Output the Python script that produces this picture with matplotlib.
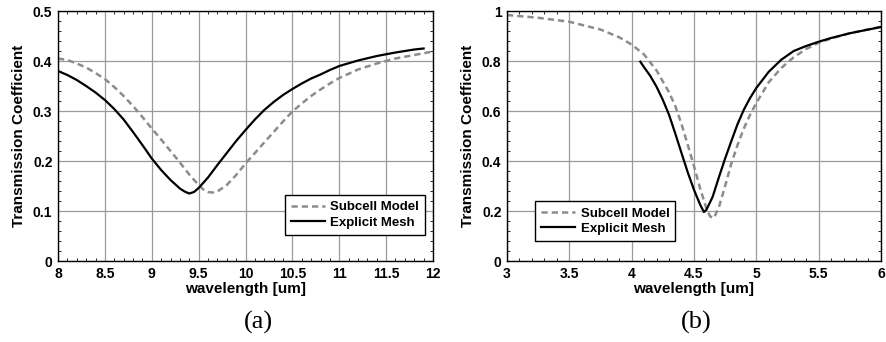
import matplotlib
matplotlib.use("Agg")
import matplotlib.pyplot as plt
from matplotlib.ticker import MultipleLocator

plt.rcParams['font.family'] = ['Liberation Sans', 'DejaVu Sans']

# Panel (a)
a_sub_x = [8.0, 8.1, 8.2, 8.3, 8.4, 8.5, 8.6, 8.7, 8.8, 8.9, 9.0, 9.1, 9.2, 9.3, 9.4, 9.5, 9.55, 9.6, 9.65, 9.7,
           9.8, 9.9, 10.0, 10.1, 10.2, 10.3, 10.4, 10.5, 10.6, 10.7, 10.8, 10.9, 11.0, 11.2, 11.4, 11.6, 11.8, 12.0]
a_sub_y = [0.405, 0.402, 0.395, 0.387, 0.376, 0.364, 0.348, 0.330, 0.310, 0.288, 0.265, 0.243, 0.220, 0.197, 0.173,
           0.152, 0.143, 0.138, 0.137, 0.139, 0.152, 0.172, 0.195, 0.216, 0.237, 0.258, 0.279, 0.299, 0.315, 0.330,
           0.343, 0.355, 0.366, 0.383, 0.395, 0.405, 0.412, 0.419]
a_exp_x = [8.0, 8.1, 8.2, 8.3, 8.4, 8.5, 8.6, 8.7, 8.8, 8.9, 9.0, 9.1, 9.2, 9.3, 9.35, 9.4, 9.45, 9.5, 9.6, 9.7,
           9.8, 9.9, 10.0, 10.1, 10.2, 10.3, 10.4, 10.5, 10.6, 10.7, 10.8, 10.9, 11.0, 11.2, 11.4, 11.6, 11.8, 11.9]
a_exp_y = [0.380, 0.372, 0.362, 0.350, 0.337, 0.322, 0.304, 0.283, 0.258, 0.232, 0.205, 0.182, 0.162, 0.145, 0.139,
           0.135, 0.138, 0.146, 0.167, 0.192, 0.216, 0.240, 0.262, 0.283, 0.302, 0.318, 0.332, 0.344, 0.355, 0.365,
           0.373, 0.382, 0.390, 0.401, 0.410, 0.417, 0.423, 0.425]

# Panel (b)
b_sub_x = [3.0, 3.25, 3.5, 3.75, 3.9, 4.0, 4.1, 4.2, 4.3, 4.35, 4.4, 4.45, 4.5, 4.55, 4.6, 4.63, 4.66, 4.7, 4.75,
           4.8, 4.85, 4.9, 4.95, 5.0, 5.1, 5.2, 5.3, 5.4, 5.5, 5.6, 5.75, 5.9, 6.0]
b_sub_y = [0.984, 0.973, 0.957, 0.926, 0.895, 0.866, 0.826, 0.762, 0.675, 0.620, 0.548, 0.465, 0.380, 0.290, 0.210,
           0.178, 0.172, 0.215, 0.300, 0.390, 0.465, 0.530, 0.585, 0.632, 0.715, 0.772, 0.815, 0.848, 0.873, 0.890,
           0.911, 0.927, 0.937]
b_exp_x = [4.07, 4.1, 4.15, 4.2, 4.25, 4.3, 4.35, 4.4, 4.45, 4.5, 4.55, 4.58, 4.6, 4.65, 4.7, 4.75, 4.8, 4.85, 4.9,
           4.95, 5.0, 5.1, 5.2, 5.3, 5.4, 5.5, 5.6, 5.75, 5.9, 6.0]
b_exp_y = [0.797, 0.775, 0.740, 0.697, 0.645, 0.585, 0.510, 0.432, 0.355, 0.285, 0.225, 0.196, 0.205, 0.257, 0.335,
           0.410, 0.480, 0.548, 0.605, 0.652, 0.692, 0.757, 0.805, 0.840, 0.860, 0.877, 0.892, 0.911, 0.926, 0.936]

series_labels = ["Subcell Model", "Explicit Mesh"]
captions = ["(a)", "(b)"]
a_xticks = ["8", "8.5", "9", "9.5", "10", "10.5", "11", "11.5", "12"]
a_yticks = ["0", "0.1", "0.2", "0.3", "0.4", "0.5"]
b_xticks = ["3", "3.5", "4", "4.5", "5", "5.5", "6"]
b_yticks = ["0", "0.2", "0.4", "0.6", "0.8", "1"]

fig = plt.figure(figsize=(8.86, 3.42), dpi=100)
ax1 = fig.add_axes([0.0655, 0.2368, 0.4232, 0.731])
ax2 = fig.add_axes([0.5722, 0.2368, 0.4221, 0.731])

def style(ax, xlim, ylim, xmin, ymin, xt, xl, yt, yl):
    ax.set_xlim(*xlim)
    ax.set_ylim(*ylim)
    ax.set_xticks(xt)
    ax.set_xticklabels(xl, fontweight='bold')
    ax.set_yticks(yt)
    ax.set_yticklabels(yl, fontweight='bold')
    ax.xaxis.set_minor_locator(MultipleLocator(xmin))
    ax.yaxis.set_minor_locator(MultipleLocator(ymin))
    ax.grid(True, which='major', color='#9a9a9a', linewidth=0.9)
    ax.tick_params(which='both', direction='in', top=True, right=True)
    ax.tick_params(which='major', length=0, labelsize=10, pad=4)
    ax.tick_params(which='minor', length=2.5, width=0.6)
    for sp in ax.spines.values():
        sp.set_linewidth(1.0)
    ax.set_xlabel("wavelength [um]", fontsize=11, fontweight='bold', labelpad=1)
    ax.set_ylabel("Transmission Coefficient", fontsize=11, fontweight='bold', labelpad=5)

leg_kw = dict(fancybox=False, edgecolor='black', framealpha=1, prop={'weight': 'bold', 'size': 9.5},
              handlelength=2.6, borderpad=0.45, labelspacing=0.25, handletextpad=0.4, borderaxespad=0)

ax1.plot(a_sub_x, a_sub_y, linestyle=(0, (2.5, 1.6)), color='#8c8c8c', linewidth=1.8, label=series_labels[0])
ax1.plot(a_exp_x, a_exp_y, color='black', linewidth=1.6, label=series_labels[1])
style(ax1, (8, 12), (0, 0.5), 0.1, 0.02,
      [8, 8.5, 9, 9.5, 10, 10.5, 11, 11.5, 12], a_xticks, [0, 0.1, 0.2, 0.3, 0.4, 0.5], a_yticks)
ax1.legend(loc='lower right', bbox_to_anchor=(0.979, 0.105), **leg_kw)

ax2.plot(b_sub_x, b_sub_y, linestyle=(0, (2.5, 1.6)), color='#8c8c8c', linewidth=1.8, label=series_labels[0])
ax2.plot(b_exp_x, b_exp_y, color='black', linewidth=1.6, label=series_labels[1])
style(ax2, (3, 6), (0, 1), 0.1, 0.04,
      [3, 3.5, 4, 4.5, 5, 5.5, 6], b_xticks, [0, 0.2, 0.4, 0.6, 0.8, 1.0], b_yticks)
ax2.legend(loc='lower left', bbox_to_anchor=(0.075, 0.08), **leg_kw)

fig.text(258 / 886, 1 - 322 / 342, captions[0], fontsize=19, family=['Liberation Serif', 'DejaVu Serif'],
         ha='center', va='center')
fig.text(696 / 886, 1 - 322 / 342, captions[1], fontsize=19, family=['Liberation Serif', 'DejaVu Serif'],
         ha='center', va='center')

fig.savefig("out.png", dpi=100)
